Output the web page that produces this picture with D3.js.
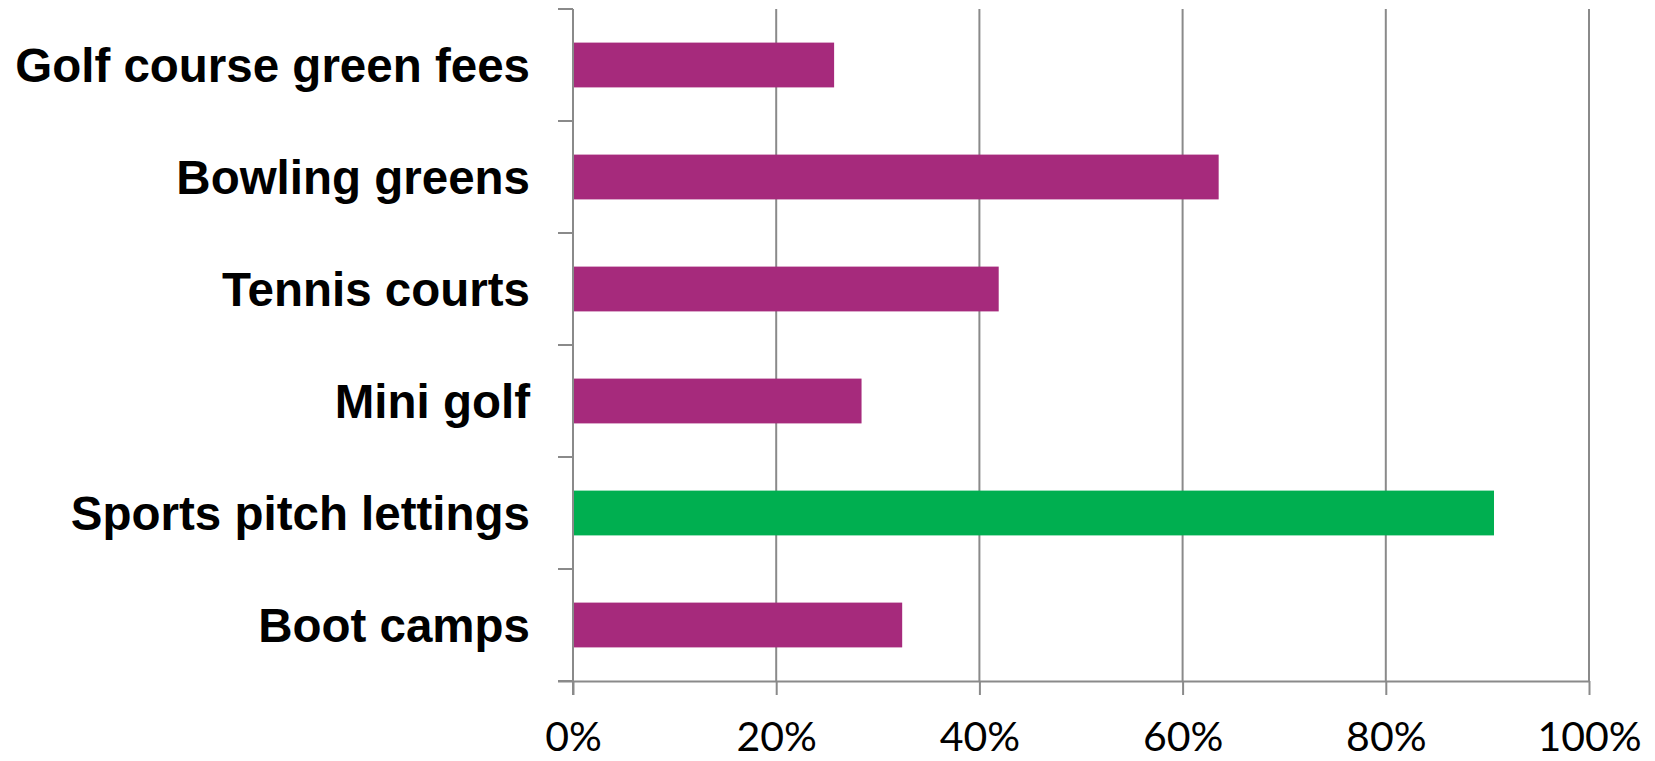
<!DOCTYPE html>
<html>
<head>
<meta charset="utf-8">
<script src="https://cdn.jsdelivr.net/npm/d3@7"></script>
<style>
  html, body { margin: 0; padding: 0; background: #fff; }
  svg { display: block; }
</style>
</head>
<body>
<svg id="chart" width="1655" height="761"></svg>
<script>
const categories = ["Golf course green fees", "Bowling greens", "Tennis courts", "Mini golf", "Sports pitch lettings", "Boot camps"];
const values = [0.257, 0.6355, 0.419, 0.284, 0.9065, 0.324];
const barColors = ["#A62A7C", "#A62A7C", "#A62A7C", "#A62A7C", "#00AF50", "#A62A7C"];
const xTicks = [0, 0.2, 0.4, 0.6, 0.8, 1.0];

(function () {
const svg = d3.select("#chart");
const mLeft = 573, mRight = 1589, mTop = 9, mBottom = 681;
const gridColor = "#8a8a8a";

const x = d3.scaleLinear().domain([0, 1]).range([mLeft, mRight]);
const y = d3.scaleBand().domain(categories).range([mTop, mBottom]).paddingInner(0.6).paddingOuter(0.3);

// gridlines
svg.append("g").selectAll("line").data(xTicks.slice(1)).join("line")
  .attr("x1", d => x(d)).attr("x2", d => x(d))
  .attr("y1", mTop).attr("y2", mBottom)
  .attr("stroke", gridColor).attr("stroke-width", 2);

// bars
svg.append("g").selectAll("rect").data(categories).join("rect")
  .attr("x", x(0))
  .attr("y", d => y(d))
  .attr("width", (d, i) => x(values[i]) - x(0))
  .attr("height", y.bandwidth())
  .attr("fill", (d, i) => barColors[i]);

// x axis
const xAxis = d3.axisBottom(x).tickValues(xTicks).tickSize(14).tickPadding(27)
  .tickFormat(d3.format(".0%"));
const gx = svg.append("g").attr("transform", `translate(0,${mBottom})`).call(xAxis);
gx.select(".domain").attr("stroke", gridColor).attr("stroke-width", 2)
  .attr("d", `M${mLeft - 15},0.5H${mRight}`);
gx.selectAll(".tick line").attr("stroke", gridColor).attr("stroke-width", 2);
gx.selectAll(".tick text")
  .attr("fill", "#000")
  .style("font-family", "Lato, 'Open Sans', sans-serif")
  .style("font-size", "41px");

// y axis (category boundary ticks)
const boundaries = d3.range(categories.length + 1).map(i => mTop + i * (mBottom - mTop) / categories.length);
svg.append("line")
  .attr("x1", mLeft).attr("x2", mLeft).attr("y1", mTop).attr("y2", mBottom + 14)
  .attr("stroke", gridColor).attr("stroke-width", 2);
svg.append("g").selectAll("line").data(boundaries).join("line")
  .attr("x1", mLeft - 15).attr("x2", mLeft)
  .attr("y1", d => d).attr("y2", d => d)
  .attr("stroke", gridColor).attr("stroke-width", 2);

// category labels
svg.append("g").selectAll("text").data(categories).join("text")
  .attr("x", 530)
  .attr("y", d => y(d) + y.bandwidth() / 2)
  .attr("dy", "0.35em")
  .attr("text-anchor", "end")
  .style("font-family", "'Liberation Sans', Arial, sans-serif")
  .style("font-weight", "bold")
  .style("font-size", "47.5px")
  .attr("fill", "#000")
  .text(d => d);
})();
</script>
</body>
</html>
